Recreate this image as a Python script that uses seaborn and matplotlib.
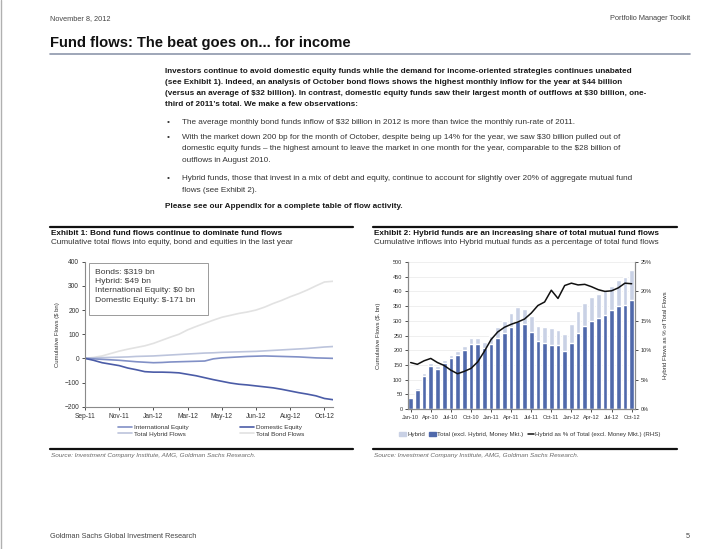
import numpy as np
import pandas as pd
import matplotlib
matplotlib.use("Agg")
import matplotlib.pyplot as plt
from matplotlib.lines import Line2D
from matplotlib.patches import Patch, Rectangle
import seaborn as sns

# =========================
# Exhibit 1 data (cumulative flows, $ bn, bi-weekly)
# =========================

ex1_tick_labels = ["Sep-11", "Nov-11", "Jan-12", "Mar-12",
                   "May-12", "Jun-12", "Aug-12", "Oct-12"]

intl_equity = [0, -2, -4, -6, -8, -11, -14, -16, -18, -17, -15, -14, -13, -12, -11,
               -2, 2, 4, 6, 8, 9, 10, 9, 8, 7, 6, 4, 2, 1, 0]
domestic_equity = [0, -8, -18, -24, -30, -40, -47, -55, -57, -57, -58, -60, -66, -72, -80,
                   -88, -95, -102, -107, -110, -114, -118, -122, -128, -135, -142, -148,
                   -155, -166, -171]
hybrid_flows = [0, 2, 3, 4, 5, 6, 8, 9, 10, 12, 14, 16, 18, 20, 22,
                23, 25, 26, 27, 28, 29, 31, 33, 35, 37, 39, 41, 44, 47, 49]
bond_flows = [0, 4, 10, 20, 30, 38, 45, 52, 62, 75, 88, 100, 118, 132, 145,
              158, 170, 178, 186, 192, 200, 212, 227, 240, 255, 268, 283, 300, 316, 319]

# =========================
# Exhibit 2 data (monthly)
# =========================

ex2_months = ["Jan-10", "Feb-10", "Mar-10", "Apr-10", "May-10", "Jun-10", "Jul-10",
              "Aug-10", "Sep-10", "Oct-10", "Nov-10", "Dec-10",
              "Jan-11", "Feb-11", "Mar-11", "Apr-11", "May-11", "Jun-11", "Jul-11",
              "Aug-11", "Sep-11", "Oct-11", "Nov-11", "Dec-11",
              "Jan-12", "Feb-12", "Mar-12", "Apr-12", "May-12", "Jun-12", "Jul-12",
              "Aug-12", "Sep-12", "Oct-12"]
total_excl_hybrid = [39, 65, 112, 146, 136, 156, 172, 185, 200, 222, 222, 208,
                     222, 243, 258, 278, 298, 288, 262, 232, 226, 218, 218, 198,
                     224, 260, 284, 300, 310, 320, 336, 350, 354, 370]
hybrid = [3, 5, 10, 10, 9, 12, 13, 13, 15, 20, 20, 20,
          28, 37, 42, 50, 50, 52, 56, 50, 54, 56, 52, 56,
          64, 72, 76, 80, 80, 80, 84, 90, 96, 102]
hybrid_pct = [7.9, 7.6, 8.2, 8.6, 7.9, 7.4, 6.6, 6.0, 6.4, 6.9, 8.0, 9.8,
              11.8, 13.1, 13.9, 14.4, 14.8, 15.3, 16.3, 17.6, 18.2, 20.2, 18.8, 21.0,
              21.4, 21.1, 21.2, 20.8, 20.3, 20.0, 20.1, 20.6, 21.4, 21.3]

# =========================
# Page text
# =========================

para_bold = [
    "Investors continue to avoid domestic equity funds while the demand for income-oriented strategies continues unabated",
    "(see Exhibit 1). Indeed, an analysis of October bond flows shows the highest monthly inflow for the year at $44 billion",
    "(versus an average of $32 billion). In contrast, domestic equity funds saw their largest month of outflows at $30 billion, one-",
    "third of 2011\u2019s total. We make a few observations:",
]
bullets = [
    ["The average monthly bond funds inflow of $32 billion in 2012 is more than twice the monthly run-rate of 2011."],
    ["With the market down 200 bp for the month of October, despite being up 14% for the year, we saw $30 billion pulled out of",
     "domestic equity funds \u2013 the highest amount to leave the market in one month for the year, comparable to the $28 billion of",
     "outflows in August 2010."],
    ["Hybrid funds, those that invest in a mix of debt and equity, continue to account for slightly over 20% of aggregate mutual fund",
     "flows (see Exhibit 2)."],
]
source_text = "Source: Investment Company Institute, AMG, Goldman Sachs Research."

# =========================
# Style
# =========================

sns.set_style("white")
plt.rcParams["font.family"] = ["Liberation Sans", "DejaVu Sans"]

W, H = 720, 549
fig = plt.figure(figsize=(W / 100, H / 100), dpi=100)
fig.patch.set_facecolor("white")


def fx(x):
    return x / W


def fy(y):
    return 1 - y / H


def esc(s):
    return s.replace("$", r"\$")


def ftext(x, y, s, **kw):
    kw.setdefault("va", "center")
    fig.text(fx(x), fy(y), esc(s), **kw)


def hline(x0, x1, y, color, lw):
    fig.add_artist(Line2D([fx(x0), fx(x1)], [fy(y), fy(y)],
                          transform=fig.transFigure, color=color, lw=lw))


def px_axes(left, top, right, bottom):
    return fig.add_axes([fx(left), fy(bottom), (right - left) / W, (bottom - top) / H])


# page edge
fig.add_artist(Line2D([fx(1), fx(1)], [0, 1], transform=fig.transFigure,
                      color="#b0b0b0", lw=1))

# header / title
ftext(50, 19, "November 8, 2012", fontsize=5.3, color="#444444")
ftext(690, 19, "Portfolio Manager Toolkit", fontsize=5.3, color="#444444", ha="right")
ftext(50, 43.5, "Fund flows: The beat goes on... for income", fontsize=10.6,
      fontweight="bold", color="#111111")
hline(50, 690, 53.5, "#8e97ab", 1.2)

# body paragraph
BODY = 5.85
for i, line in enumerate(para_bold):
    ftext(165, 71.7 + i * 10.9, line, fontsize=BODY, fontweight="bold", color="#1a1a1a")

bullet_rows = [[122.7], [137.7, 149.0, 160.3], [178.7, 190.0]]
for rows, lines in zip(bullet_rows, bullets):
    ftext(167, rows[0], "\u2022", fontsize=BODY, color="#333333")
    for y, line in zip(rows, lines):
        ftext(181.5, y, line, fontsize=BODY, color="#333333")

ftext(165, 206.7, "Please see our Appendix for a complete table of flow activity.",
      fontsize=BODY, fontweight="bold", color="#1a1a1a")

# footer
ftext(50, 536, "Goldman Sachs Global Investment Research", fontsize=5.3, color="#444444")
ftext(690, 536, "5", fontsize=5.3, color="#444444", ha="right")

# =========================
# Exhibit 1
# =========================

hline(50, 353, 227, "#111111", 1.6)
ftext(51, 233.5, "Exhibit 1: Bond fund flows continue to dominate fund flows",
      fontsize=5.85, fontweight="bold", color="#111111")
ftext(51, 242.5, "Cumulative total flows into equity, bond and equities in the last year",
      fontsize=5.9, color="#333333")

ax1 = px_axes(85, 261.7, 333, 406.7)
x1 = np.arange(len(bond_flows))
ex1_series = [
    ("Total Bond Flows", bond_flows, "#e2e2e2"),
    ("Total Hybrid Flows", hybrid_flows, "#bcc4dc"),
    ("International Equity", intl_equity, "#8190c6"),
    ("Domestic Equity", domestic_equity, "#4b5ca7"),
]
for name, vals, col in ex1_series:
    sns.lineplot(x=x1, y=vals, ax=ax1, color=col, lw=1.2, legend=False)

ax1.set_xlim(0, len(bond_flows) - 1)
ax1.set_ylim(-200, 400)
ax1.set_yticks(range(-200, 401, 100))
ax1.set_xticks(range(0, 4 * len(ex1_tick_labels), 4))
ax1.set_xticklabels(ex1_tick_labels)
for side in ["top", "right"]:
    ax1.spines[side].set_visible(False)
for side in ["left", "bottom"]:
    ax1.spines[side].set_color("#8a8a8a")
    ax1.spines[side].set_linewidth(0.8)
ax1.tick_params(axis="both", labelsize=4.8, colors="#333333", length=2.2,
                width=0.6, pad=2, direction="out", left=True, bottom=True)
ax1.set_ylabel("Cumulative Flows ($ bn)", fontsize=4.3, color="#333333")
ax1.yaxis.set_label_coords(-0.1, 0.5)

# annotation box
fig.add_artist(Rectangle((fx(88.5), fy(315)), (208 - 88.5) / W, (315 - 262.5) / H,
                         transform=fig.transFigure, facecolor="white",
                         edgecolor="#9a9a9a", lw=0.7))
box_lines = ["Bonds: $319 bn", "Hybrid: $49 bn",
             "International Equity: $0 bn", "Domestic Equity: $-171 bn"]
for i, line in enumerate(box_lines):
    ftext(95, 272 + i * 9.4, line, fontsize=6.1, color="#3a3a3a")

ex1_handles = [Line2D([], [], color=c, lw=1.2) for _, _, c in ex1_series]
order = [2, 1, 3, 0]
fig.legend([ex1_handles[i] for i in order], [ex1_series[i][0] for i in order],
           loc="center", bbox_to_anchor=(fx(211), fy(430.5)), ncol=2, frameon=False,
           fontsize=4.6, handlelength=2.2, handletextpad=0.3, columnspacing=8.0,
           labelspacing=0.2, labelcolor="#333333")

hline(50, 353, 448.5, "#111111", 1.6)
ftext(51, 455, source_text, fontsize=4.55, style="italic", color="#666666")

# =========================
# Exhibit 2
# =========================

hline(373, 677, 227, "#111111", 1.6)
ftext(374, 233.5, "Exhibit 2: Hybrid funds are an increasing share of total mutual fund flows",
      fontsize=5.85, fontweight="bold", color="#111111")
ftext(374, 242.5, "Cumulative inflows into Hybrid mutual funds as a percentage of total fund flows",
      fontsize=5.9, color="#333333")

df2 = pd.DataFrame({
    "month": ex2_months,
    "total": total_excl_hybrid,
    "hybrid": hybrid,
    "pct": hybrid_pct,
})
df2["stack"] = df2["total"] + df2["hybrid"]

ax2 = px_axes(408, 262, 635, 409)
ax2.yaxis.grid(True, color="#ececec", lw=0.6)
ax2.set_axisbelow(True)
sns.barplot(data=df2, x="month", y="stack", order=ex2_months, color="#c9d1e5",
            width=0.7, saturation=1, ax=ax2)
sns.barplot(data=df2, x="month", y="total", order=ex2_months, color="#5069ab",
            width=0.7, saturation=1, ax=ax2)

ax2r = ax2.twinx()
sns.lineplot(x=np.arange(len(hybrid_pct)), y=df2["pct"], ax=ax2r, color="#111111",
             lw=1.1, legend=False)

ax2.set_xlim(-0.4, len(ex2_months) - 0.5)
ax2.set_ylim(0, 500)
ax2.set_yticks(range(0, 501, 50))
ax2r.set_ylim(0, 25)
ax2r.set_yticks(range(0, 26, 5))
ax2r.set_yticklabels([f"{v}%" for v in range(0, 26, 5)])
ax2.set_xticks(range(0, len(ex2_months), 3))
ax2.set_xticklabels(ex2_months[::3])
ax2.set_xlabel("")
ax2.set_ylabel("Cumulative Flows ($. bn)", fontsize=4.3, color="#333333")
ax2.yaxis.set_label_coords(-0.12, 0.5)
ax2r.set_ylabel("Hybrid Flows as % of Total Flows", fontsize=4.3, color="#333333")
ax2r.yaxis.set_label_coords(1.125, 0.5)

for a in (ax2, ax2r):
    a.spines["top"].set_visible(False)
    for side in ["left", "right", "bottom"]:
        a.spines[side].set_color("#8a8a8a")
        a.spines[side].set_linewidth(0.8)
    a.tick_params(axis="both", labelsize=4.0, colors="#333333", length=2,
                  width=0.6, pad=2, direction="out")
ax2.tick_params(left=True, bottom=True)
ax2r.tick_params(right=True)

fig.legend(
    [Patch(color="#c9d1e5"), Patch(color="#5069ab"), Line2D([], [], color="#111111", lw=1.1)],
    ["Hybrid", "Total (excl. Hybrid, Money Mkt.)",
     "Hybrid as % of Total (excl. Money Mkt.) (RHS)"],
    loc="center", bbox_to_anchor=(fx(530), fy(434.5)), ncol=3, frameon=False,
    fontsize=4.4, handlelength=1.1, handleheight=0.7, handletextpad=0.2,
    columnspacing=0.7, labelcolor="#333333")

hline(373, 677, 448.5, "#111111", 1.6)
ftext(374, 455, source_text, fontsize=4.55, style="italic", color="#666666")

fig.savefig("out.png", dpi=100)
